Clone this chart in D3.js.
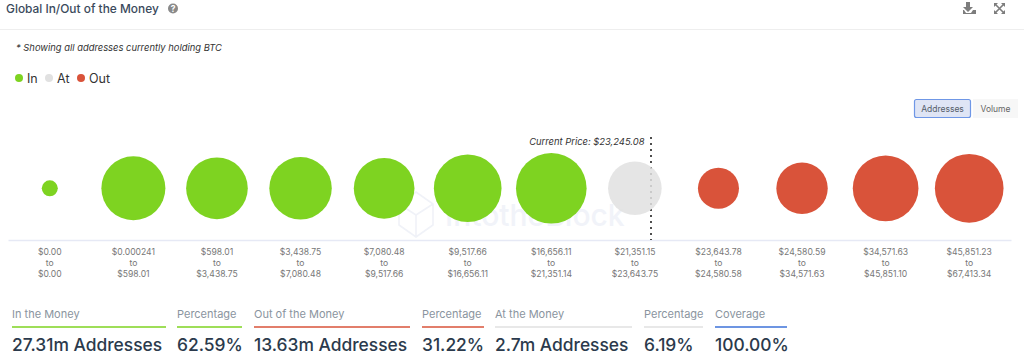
<!DOCTYPE html>
<html>
<head>
<meta charset="utf-8">
<script src="https://cdn.jsdelivr.net/npm/d3@7"></script>
<style>
  html, body { margin: 0; padding: 0; background: #fff; overflow: hidden; }
  text { font-family: Inter, "Noto Sans", sans-serif; }
</style>
</head>
<body>
<div id="chart-area"></div>
<script>
const rangeLow = ["$0.00", "$0.000241", "$598.01", "$3,438.75", "$7,080.48", "$9,517.66", "$16,656.11", "$21,351.15", "$23,643.78", "$24,580.59", "$34,571.63", "$45,851.23"]
const rangeHigh = ["$0.00", "$598.01", "$3,438.75", "$7,080.48", "$9,517.66", "$16,656.11", "$21,351.14", "$23,643.75", "$24,580.58", "$34,571.63", "$45,851.10", "$67,413.34"]
// addresses in millions
const addresses = [0.13, 4.13, 3.76, 3.88, 3.61, 4.74, 5.28, 2.65, 1.36, 2.39, 4.40, 4.92]
const status = ["In", "In", "In", "In", "In", "In", "In", "At", "Out", "Out", "Out", "Out"]

const legendNames = ["In", "At", "Out"]
const legendColors = ["#7ed321", "#e1e1e1", "#d9533a"]

const summaryLabels = ["In the Money", "Percentage", "Out of the Money", "Percentage", "At the Money", "Percentage", "Coverage"]
const summaryValues = ["27.31m Addresses", "62.59%", "13.63m Addresses", "31.22%", "2.7m Addresses", "6.19%", "100.00%"]
const summaryColors = ["#7ed321", "#7ed321", "#d9533a", "#d9533a", "#e1e1e1", "#e1e1e1", "#3d72d9"]
const summaryLeft = [12, 177, 254, 422, 495, 644, 715]
const summaryRight = [166, 242, 410, 484, 632, 703, 787]

const priceLabel = "Current Price: $23,245.08"

const width = 1024, height = 358
const axisY = 240, bubbleY = 188.3

let svg = d3.select("#chart-area")
	.append("svg")
	.attr("width", width)
	.attr("height", height)
	.style("display", "block")

// header
svg.append("text").text("Global In/Out of the Money")
	.attr("x", 6).attr("y", 12.5)
	.attr("font-size", "11.9px").attr("font-weight", 500).attr("fill", "#3a4a5c")
let help = svg.append("g").attr("transform", "translate(173,8.5)")
help.append("circle").attr("r", 5).attr("fill", "#8a8a8a")
help.append("text").text("?").attr("text-anchor", "middle").attr("y", 3.2)
	.attr("font-size", "8.5px").attr("font-weight", 700).attr("fill", "#fff")
svg.append("line").attr("x1", 0).attr("x2", width).attr("y1", 29.5).attr("y2", 29.5).attr("stroke", "#eeeeee")

// download + expand icons
svg.append("path").attr("fill", "#7d7d7d")
	.attr("d", "M966 2h4v5h3l-5 5-5-5h3zM963 10v4h13v-4l-3 0-2 3h-5l-2-3z")
let expand = svg.append("g").attr("stroke", "#7d7d7d").attr("stroke-width", 1.6).attr("fill", "none")
expand.append("path").attr("d", "M995 4l9 9M1004 4l-9 9")
svg.append("path").attr("fill", "#7d7d7d")
	.attr("d", "M994 3h4l-4 4zM1005 3v4l-4-4zM994 14v-4l4 4zM1005 14h-4l4-4z")

svg.append("text").text("* Showing all addresses currently holding BTC")
	.attr("x", 16).attr("y", 51)
	.attr("font-size", "9.4px").attr("font-style", "italic").attr("fill", "#333")

// legend
let legendX = [19, 49, 81]
let legend = svg.append("g").selectAll("g").data(legendNames).enter().append("g")
	.attr("transform", (d, i) => "translate(" + legendX[i] + ",78)")
legend.append("circle").attr("r", 4).attr("fill", (d, i) => legendColors[i])
legend.append("text").text(d => d).attr("x", 8).attr("y", 4.5)
	.attr("font-size", "12.5px").attr("fill", "#333")

// Addresses / Volume toggle
svg.append("rect").attr("x", 914.5).attr("y", 99.5).attr("width", 56).attr("height", 18).attr("rx", 2)
	.attr("fill", "#dfe5f5").attr("stroke", "#6f97e6").attr("stroke-width", 1.2)
svg.append("text").text("Addresses").attr("x", 942.5).attr("y", 111.5).attr("text-anchor", "middle")
	.attr("font-size", "8.5px").attr("fill", "#555e6b")
svg.append("rect").attr("x", 973).attr("y", 99).attr("width", 45).attr("height", 19).attr("fill", "#f7f7f7")
svg.append("text").text("Volume").attr("x", 995.5).attr("y", 111.5).attr("text-anchor", "middle")
	.attr("font-size", "8.5px").attr("fill", "#666")

// watermark
let mark = svg.append("g").attr("fill", "none").attr("stroke", "#f0f2f8").attr("stroke-width", 1.6)
mark.append("path").attr("d", "M399 204l17-12 17 12v21l-17 12-17-12zM399 204l17 11 17-11M416 215v22")
svg.append("text").text("IntotheBlock").attr("x", 445).attr("y", 226)
	.attr("font-size", "30px").attr("font-weight", 500).attr("fill", "#f1f3f9")

// scales
let xVal = d3.scaleBand().domain(d3.range(addresses.length)).range([8, 1011])
let rVal = d3.scalePow().exponent(0.4).domain([1, 2.7]).range([18.14, 27])

// x axis with three line labels
let xAxis = d3.axisBottom(xVal).tickSize(0).tickPadding(0).tickFormat("")
let xAxis_group = svg.append("g")
	.attr("class", "x axis")
	.attr("transform", "translate(0," + axisY + ")")
	.call(xAxis)
xAxis_group.select(".domain").attr("stroke", "#e6e9f5").attr("stroke-width", 1.5)
let tickText = xAxis_group.selectAll(".tick text").text(null)
	.attr("fill", "#777").attr("font-size", "8.6px").attr("y", 0).attr("dy", 0)
tickText.each(function(d, i) {
	let t = d3.select(this)
	t.append("tspan").attr("x", 0).attr("y", 15).text(rangeLow[i])
	t.append("tspan").attr("x", 0).attr("y", 26).text("to")
	t.append("tspan").attr("x", 0).attr("y", 37).text(rangeHigh[i])
})

// current price marker, sits behind the bubbles
let priceX = 651
svg.append("line").attr("x1", priceX).attr("x2", priceX).attr("y1", 137).attr("y2", axisY)
	.attr("stroke", "#222").attr("stroke-width", 1.6).attr("stroke-dasharray", "2,4")
svg.append("text").text(priceLabel).attr("x", priceX - 6.5).attr("y", 145).attr("text-anchor", "end")
	.attr("font-size", "9.4px").attr("font-style", "italic").attr("fill", "#333")

// bubbles
let colorOf = d3.scaleOrdinal().domain(legendNames).range(legendColors)
svg.append("g").selectAll("circle").data(addresses).enter().append("circle")
	.attr("cx", (d, i) => xVal(i) + xVal.bandwidth() / 2)
	.attr("cy", bubbleY)
	.attr("r", d => rVal(d))
	.attr("fill", (d, i) => colorOf(status[i]))
	.attr("fill-opacity", (d, i) => status[i] == "At" ? 0.85 : 1)

// summary row
let summary = svg.append("g").selectAll("g").data(summaryLabels).enter().append("g")
summary.append("text").text(d => d).attr("x", (d, i) => summaryLeft[i]).attr("y", 318)
	.attr("font-size", "11px").attr("fill", "#8a949e")
summary.append("line")
	.attr("x1", (d, i) => summaryLeft[i]).attr("x2", (d, i) => summaryRight[i])
	.attr("y1", 327).attr("y2", 327)
	.attr("stroke", (d, i) => summaryColors[i]).attr("stroke-width", 1.5)
summary.append("text").text((d, i) => summaryValues[i]).attr("x", (d, i) => summaryLeft[i]).attr("y", 351)
	.attr("font-size", "17.4px").attr("font-weight", 500).attr("fill", "#2b3a4c")
</script>
</body>
</html>
